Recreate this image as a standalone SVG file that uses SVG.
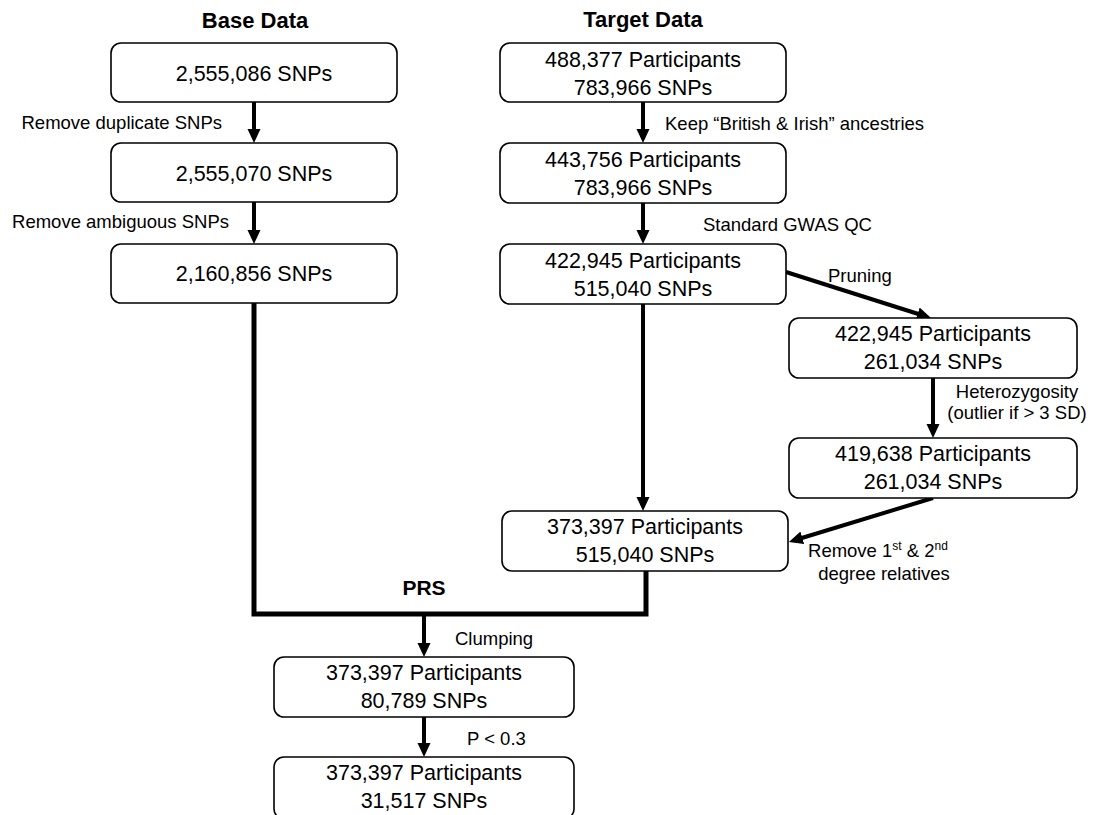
<svg xmlns="http://www.w3.org/2000/svg" width="1100" height="815" viewBox="0 0 1100 815">
<style>
.box{fill:#fff;stroke:#000;stroke-width:1.6}
.bt{font-family:"Liberation Sans",Arial,sans-serif;font-size:21.5px;fill:#000;text-anchor:middle}
.lb{font-family:"Liberation Sans",Arial,sans-serif;font-size:18.5px;fill:#000}
.ti{font-family:"Liberation Sans",Arial,sans-serif;font-size:22px;font-weight:bold;fill:#000;text-anchor:middle}
.ar{fill:none;stroke:#000;stroke-width:4;marker-end:url(#ah)}
.cn{fill:none;stroke:#000;stroke-width:5}
</style>
<defs>
<marker id="ah" markerUnits="userSpaceOnUse" markerWidth="14" markerHeight="14" viewBox="0 0 14 14" refX="4" refY="7" orient="auto">
<path d="M0,0.5 L14,7 L0,13.5 z" fill="#000"/>
</marker>
</defs>
<rect width="1100" height="815" fill="#fff"/>
<text class="ti" x="255" y="28">Base Data</text>
<text class="ti" x="643" y="27">Target Data</text>
<text class="ti" x="424" y="595" style="font-size:21px">PRS</text>

<g id="connectors">
<line class="ar" x1="254" y1="102" x2="254" y2="133"/>
<line class="ar" x1="254" y1="202" x2="254" y2="234"/>
<line class="ar" x1="643" y1="102" x2="643" y2="133"/>
<line class="ar" x1="643" y1="203" x2="643" y2="234"/>
<line class="ar" x1="786" y1="272" x2="921.5" y2="315"/>
<line class="ar" x1="933" y1="378" x2="933" y2="428"/>
<line class="ar" x1="933" y1="498" x2="798.5" y2="539"/>
<line class="ar" x1="643" y1="304" x2="643" y2="501"/>
<path class="cn" d="M254,303 V614 H646 V571"/>
<line class="ar" x1="424" y1="614" x2="424" y2="647"/>
<line class="ar" x1="424" y1="717" x2="424" y2="747"/>
</g>

<g id="labels">
<text class="lb" x="222" y="129" text-anchor="end">Remove duplicate SNPs</text>
<text class="lb" x="229" y="228" text-anchor="end">Remove ambiguous SNPs</text>
<text class="lb" x="665" y="130">Keep “British &amp; Irish” ancestries</text>
<text class="lb" x="703" y="231">Standard GWAS QC</text>
<text class="lb" x="828" y="282">Pruning</text>
<text class="lb" x="1017" y="398" text-anchor="middle">Heterozygosity</text>
<text class="lb" x="1017" y="419" text-anchor="middle">(outlier if &gt; 3 SD)</text>
<text class="lb" x="878" y="557" text-anchor="middle">Remove 1<tspan font-size="12" dy="-7">st</tspan><tspan dy="7"> &amp; 2</tspan><tspan font-size="12" dy="-7">nd</tspan></text>
<text class="lb" x="884" y="580" text-anchor="middle">degree relatives</text>
<text class="lb" x="455" y="645">Clumping</text>
<text class="lb" x="467" y="745">P &lt; 0.3</text>
</g>

<g id="base1"><rect class="box" x="111" y="43" width="286" height="59" rx="10"/><text class="bt" x="254" y="81">2,555,086 SNPs</text></g>
<g id="base2"><rect class="box" x="111" y="143" width="286" height="59" rx="10"/><text class="bt" x="254" y="181">2,555,070 SNPs</text></g>
<g id="base3"><rect class="box" x="111" y="244" width="286" height="59" rx="10"/><text class="bt" x="254" y="281">2,160,856 SNPs</text></g>

<g id="target1"><rect class="box" x="500" y="43" width="286" height="59" rx="10"/><text class="bt" x="643" y="67">488,377 Participants</text><text class="bt" x="643" y="95">783,966 SNPs</text></g>
<g id="target2"><rect class="box" x="500" y="143" width="286" height="60" rx="10"/><text class="bt" x="643" y="167">443,756 Participants</text><text class="bt" x="643" y="195">783,966 SNPs</text></g>
<g id="target3"><rect class="box" x="500" y="244" width="286" height="60" rx="10"/><text class="bt" x="643" y="268">422,945 Participants</text><text class="bt" x="643" y="296">515,040 SNPs</text></g>

<g id="pruned"><rect class="box" x="789" y="318" width="288" height="60" rx="10"/><text class="bt" x="933" y="341">422,945 Participants</text><text class="bt" x="933" y="369">261,034 SNPs</text></g>
<g id="hetero"><rect class="box" x="789" y="438" width="288" height="60" rx="10"/><text class="bt" x="933" y="461">419,638 Participants</text><text class="bt" x="933" y="489">261,034 SNPs</text></g>

<g id="unrelated"><rect class="box" x="502" y="511" width="286" height="60" rx="10"/><text class="bt" x="645" y="534">373,397 Participants</text><text class="bt" x="645" y="562">515,040 SNPs</text></g>

<g id="clumped"><rect class="box" x="274" y="657" width="300" height="60" rx="10"/><text class="bt" x="424" y="680">373,397 Participants</text><text class="bt" x="424" y="708">80,789 SNPs</text></g>
<g id="final"><rect class="box" x="274" y="757" width="300" height="62" rx="10"/><text class="bt" x="424" y="780">373,397 Participants</text><text class="bt" x="424" y="808">31,517 SNPs</text></g>
</svg>
